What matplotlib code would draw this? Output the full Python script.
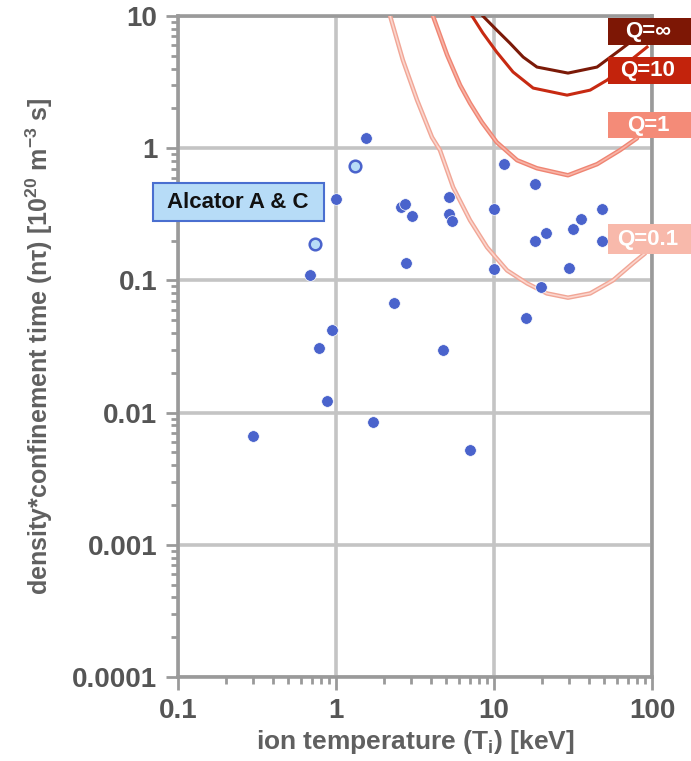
import numpy as np
import matplotlib.pyplot as plt
from matplotlib.patches import Rectangle
from matplotlib.ticker import LogLocator, NullFormatter, FixedLocator, FixedFormatter

plt.rcParams['font.family'] = ['Liberation Sans', 'DejaVu Sans']

# measured shots (ion temperature keV, n*tau 1e20 m^-3 s)
temp_keV = [0.30, 0.68, 0.78, 0.88, 0.95, 1.0, 1.55, 1.71, 2.33, 2.58, 2.74, 2.77, 3.02,
            4.75, 5.19, 5.19, 5.42, 7.05, 10.0, 10.0, 11.6, 18.2, 18.2, 21.3, 31.6, 35.5,
            48.3, 48.3, 29.9, 19.8, 15.9]
ntau = [0.0066, 0.11, 0.031, 0.0123, 0.042, 0.41, 1.19, 0.0085, 0.068, 0.357, 0.377, 0.135, 0.305,
        0.030, 0.43, 0.316, 0.28, 0.0052, 0.345, 0.121, 0.76, 0.54, 0.20, 0.23, 0.243, 0.29,
        0.345, 0.20, 0.125, 0.0885, 0.0515]

# Alcator A & C shots (open markers)
alcator_T = [0.74, 1.32]
alcator_ntau = [0.187, 0.73]

# Q contours
q_inf_T = [8.5, 10.4, 12.6, 15.3, 18.7, 29.4, 44.9, 62.7, 80.4]
q_inf_nt = [10, 7.83, 6.24, 4.89, 4.11, 3.70, 4.11, 5.53, 6.93]
q10_T = [7.26, 8.5, 10.4, 13.2, 17.7, 29.0, 40.6, 51.9, 69.5, 93.0]
q10_nt = [10, 7.44, 5.34, 3.77, 2.85, 2.52, 2.75, 3.27, 4.4, 5.82]
q1_T = [4.11, 5.05, 6.10, 7.05, 8.39, 10.4, 14.0, 18.7, 29.4, 44.9, 62.7, 80.4]
q1_nt = [10, 5.07, 3.0, 2.19, 1.57, 1.11, 0.811, 0.705, 0.624, 0.757, 0.966, 1.19]
q01_T = [2.20, 2.65, 3.26, 4.05, 4.55, 5.51, 7.05, 9.04, 12.1, 16.2, 21.6, 29.4, 40.6, 56.6, 75.9, 90.3]
q01_nt = [10, 4.64, 2.31, 1.21, 0.966, 0.507, 0.285, 0.178, 0.119, 0.0949, 0.0797, 0.074, 0.0797,
          0.1, 0.135, 0.160]

W, H = 691, 761
fig = plt.figure(figsize=(W / 100, H / 100), dpi=100)
ax = fig.add_axes([178 / W, 1 - 677 / H, (652 - 178) / W, (677 - 16) / H])
ax.set_xscale('log')
ax.set_yscale('log')
ax.set_xlim(0.1, 100)
ax.set_ylim(0.0001, 10)

grey = '#9a9a9a'
ax.grid(True, which='major', color='#c4c4c4', lw=2.6, zorder=0)
for s in ax.spines.values():
    s.set_color(grey)
    s.set_linewidth(2.6)

ax.xaxis.set_major_locator(FixedLocator([0.1, 1, 10, 100]))
ax.xaxis.set_major_formatter(FixedFormatter(['0.1', '1', '10', '100']))
ax.yaxis.set_major_locator(FixedLocator([0.0001, 0.001, 0.01, 0.1, 1, 10]))
ax.yaxis.set_major_formatter(FixedFormatter(['0.0001', '0.001', '0.01', '0.1', '1', '10']))
ax.xaxis.set_minor_locator(LogLocator(base=10, subs=np.arange(2, 10)))
ax.yaxis.set_minor_locator(LogLocator(base=10, subs=np.arange(2, 10)))
ax.xaxis.set_minor_formatter(NullFormatter())
ax.yaxis.set_minor_formatter(NullFormatter())
ax.tick_params(which='major', direction='out', length=9, width=2, color=grey,
               labelsize=20, labelcolor='#555555', pad=6)
ax.tick_params(which='minor', direction='out', length=5, width=2, color=grey)
for lab in ax.get_xticklabels() + ax.get_yticklabels():
    lab.set_fontweight('bold')

# Q curves
ax.plot(q01_T, q01_nt, color='#f1a696', lw=3.2, zorder=3, solid_capstyle='round')
ax.plot(q01_T, q01_nt, color='#fbd6ce', lw=1.2, zorder=3)
ax.plot(q1_T, q1_nt, color='#ef8573', lw=3.2, zorder=3, solid_capstyle='round')
ax.plot(q1_T, q1_nt, color='#f8b4a7', lw=1.2, zorder=3)
ax.plot(q10_T, q10_nt, color='#c72a12', lw=2.2, zorder=3)
ax.plot(q_inf_T, q_inf_nt, color='#7b1a08', lw=2.2, zorder=3)

ax.scatter(temp_keV, ntau, s=70, color='#4a63cc', edgecolor='white', linewidth=0.5, zorder=4)
ax.scatter(alcator_T, alcator_ntau, s=70, color='#b7dcf7', edgecolor='#4a63cc', linewidth=1.8, zorder=4)

ax.set_xlabel('ion temperature (T$_\\mathregular{i}$) [keV]', fontsize=19, fontweight='bold',
              color='#606060', labelpad=3)
ax.set_ylabel('density*confinement time (n\u03c4) [10$^\\mathregular{20}$ m$^\\mathregular{-3}$ s]',
              fontsize=18, fontweight='bold', color='#606060', labelpad=12)


def box(x0, y0, x1, y1, face, edge=None, lw=0):
    r = Rectangle((x0 / W, 1 - y1 / H), (x1 - x0) / W, (y1 - y0) / H, transform=fig.transFigure,
                  facecolor=face, edgecolor=edge if edge else face, linewidth=lw, zorder=10)
    fig.add_artist(r)


# Q labels at right
labels = [('Q=\u221e', 18, 45, '#7d1705'), ('Q=10', 57, 84, '#c3230c'),
          ('Q=1', 112, 138, '#f48b78'), ('Q=0.1', 224, 254, '#f8b9ab')]
for txt, y0, y1, c in labels:
    box(608, y0, W + 5, y1, c)
    fig.text(648 / W, 1 - (y0 + y1) / 2 / H, txt, ha='center', va='center', fontsize=16,
             fontweight='bold', color='white', zorder=11)

# Alcator label
box(153, 183, 324, 221, '#b7dcf7', '#4a6fd0', 1.5)
fig.text(238 / W, 1 - 202 / H, 'Alcator A & C', ha='center', va='center', fontsize=16,
         fontweight='bold', color='#111111', zorder=11)

fig.savefig('out.png', dpi=100)
